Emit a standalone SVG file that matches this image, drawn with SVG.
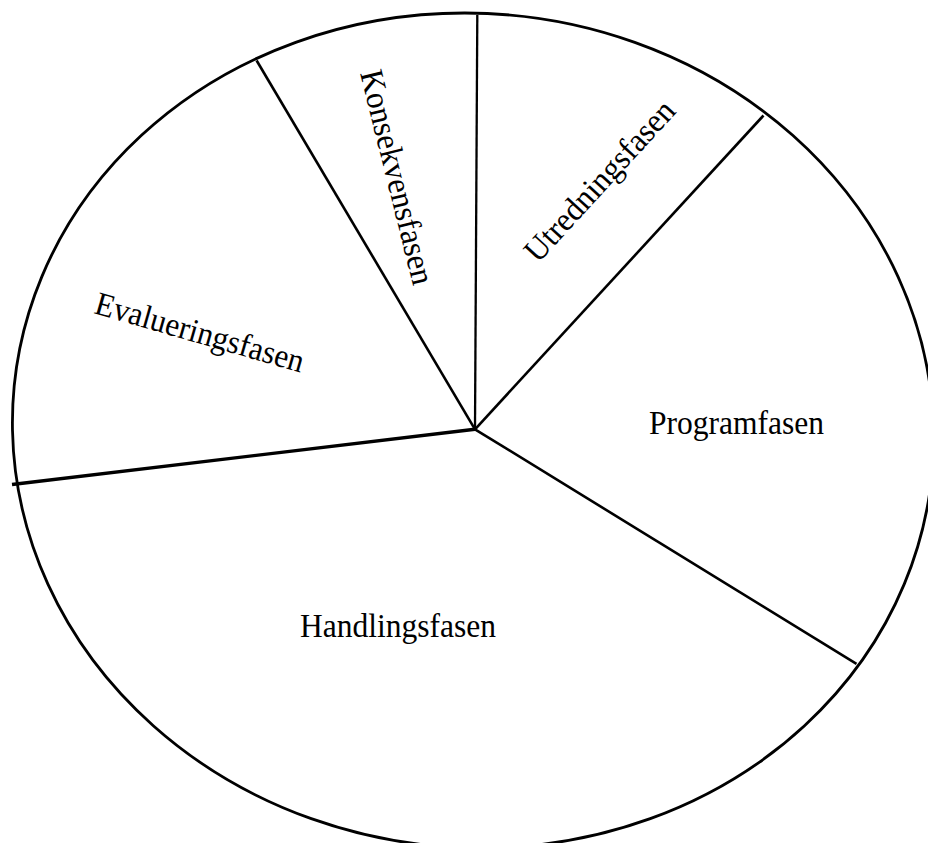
<svg xmlns="http://www.w3.org/2000/svg" width="928" height="843" viewBox="0 0 928 843">
<style>
.ln{stroke:#000;stroke-width:2.6;stroke-linecap:butt;fill:none}
.lbl{font-family:"Liberation Serif","Times New Roman",serif;font-size:33px;fill:#000}
</style>
<rect width="928" height="843" fill="#fff"/>
<g id="outline">
<ellipse class="ln" transform="translate(473 430.5) skewX(1.146)" cx="0" cy="0" rx="460.5" ry="417.5" style="stroke-width:2.8"/>
</g>
<g id="dividers">
<line class="ln" x1="475" y1="429.3" x2="477.3" y2="15" style="stroke-width:2.3"/>
<line class="ln" x1="475" y1="429.3" x2="256.6" y2="60.5"/>
<line class="ln" x1="475" y1="429.3" x2="763.5" y2="115.5"/>
<line class="ln" x1="475" y1="429.3" x2="856.5" y2="663.8"/>
<line class="ln" x1="475" y1="429.3" x2="12" y2="484.5" style="stroke-width:3.4"/>
</g>
<g id="konsekvensfasen"><text class="lbl" transform="translate(360 73) rotate(76)" textLength="220" lengthAdjust="spacingAndGlyphs">Konsekvensfasen</text></g>
<g id="utredningsfasen"><text class="lbl" transform="translate(538 264) rotate(-47.5)" textLength="206" lengthAdjust="spacingAndGlyphs">Utredningsfasen</text></g>
<g id="evalueringsfasen"><text class="lbl" transform="translate(93 313) rotate(16)" textLength="216" lengthAdjust="spacingAndGlyphs">Evalueringsfasen</text></g>
<g id="programfasen"><text class="lbl" x="649" y="434" textLength="175" lengthAdjust="spacingAndGlyphs">Programfasen</text></g>
<g id="handlingsfasen"><text class="lbl" x="300" y="637" textLength="196" lengthAdjust="spacingAndGlyphs">Handlingsfasen</text></g>
</svg>
